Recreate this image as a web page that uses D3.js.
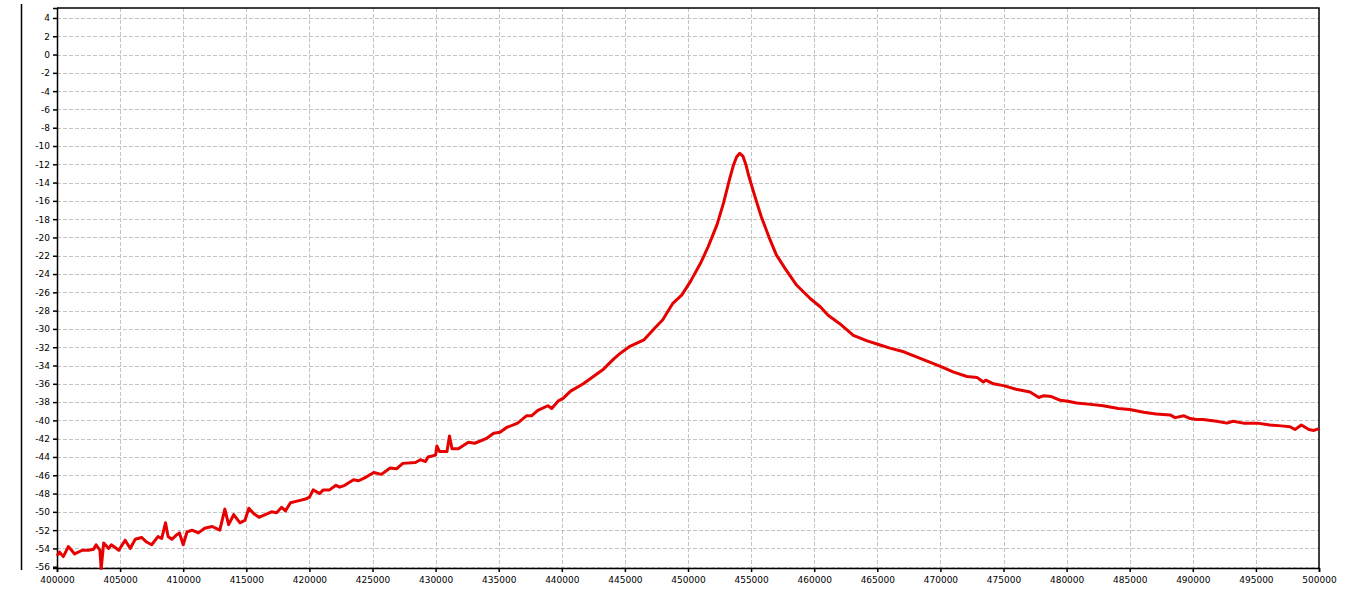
<!DOCTYPE html>
<html>
<head>
<meta charset="utf-8">
<script src="https://d3js.org/d3.v7.min.js"></script>
<style>
  body { margin: 0; background: #fff; }
  text { font-family: "DejaVu Sans", sans-serif; font-size: 9px; fill: #000; }
</style>
</head>
<body>
<div id="graph"></div>
<script>

// frequency sweep, Hz
var freqs = [
  400000, 400200, 400500, 400900, 401400, 402000, 402500, 402900, 403100, 403400,
  403500, 403700, 404100, 404300, 404900, 405400, 405800, 406200, 406700, 407100,
  407500, 408000, 408300, 408600, 408800, 409100, 409500, 409700, 410000, 410300,
  410700, 411200, 411700, 412300, 412900, 413300, 413600, 414000, 414500, 414900,
  415200, 415600, 416000, 416500, 417000, 417400, 417800, 418100, 418500, 419100,
  419700, 420000, 420300, 420800, 421100, 421600, 422100, 422400, 422800, 423500,
  423900, 424500, 425100, 425700, 426400, 426900, 427400, 428400, 428800, 429200,
  429400, 430000, 430100, 430300, 430900, 431100, 431300, 431800, 432600, 433100,
  434000, 434600, 435100, 435600, 436500, 437200, 437600, 438100, 438900, 439200,
  439700, 440100, 440700, 441700, 442500, 443300, 444100, 444600, 445400, 446500,
  447300, 448000, 448800, 449500, 450200, 451000, 451600, 452300, 452800, 453300,
  453600, 453850, 454100, 454350, 454600, 454800, 455300, 455800, 456400, 457000,
  457700, 458600, 459700, 460500, 461100, 462000, 463100, 464200, 465100, 466000,
  467100, 468000, 468900, 470000, 471000, 472100, 472900, 473400, 473600, 474200,
  475000, 476000, 477100, 477800, 478200, 478800, 479500, 480100, 480800, 481900,
  482900, 484100, 485000, 486100, 487100, 488200, 488600, 489300, 489800, 490300,
  490800, 491900, 492700, 493200, 494000, 495100, 496100, 497000, 497700, 498100,
  498600, 499200, 499600, 500000
];

// measured level, dB
var levels = [
  -54.8, -54.4, -54.9, -53.8, -54.6, -54.2, -54.2, -54.1, -53.6, -54.2,
  -56.2, -53.4, -54.0, -53.6, -54.2, -53.1, -54.0, -53.0, -52.8, -53.3,
  -53.6, -52.7, -52.9, -51.2, -52.7, -53.0, -52.5, -52.3, -53.6, -52.2,
  -52.0, -52.3, -51.8, -51.6, -52.0, -49.7, -51.4, -50.3, -51.2, -50.9,
  -49.6, -50.2, -50.6, -50.3, -50.0, -50.1, -49.5, -49.9, -49.0, -48.8,
  -48.6, -48.4, -47.6, -48.0, -47.6, -47.6, -47.1, -47.3, -47.1, -46.5,
  -46.6, -46.2, -45.7, -45.9, -45.2, -45.3, -44.7, -44.6, -44.3, -44.5,
  -44.0, -43.8, -42.8, -43.4, -43.4, -41.7, -43.1, -43.1, -42.4, -42.5,
  -42.0, -41.4, -41.3, -40.8, -40.3, -39.5, -39.5, -38.9, -38.4, -38.7,
  -37.9, -37.6, -36.8, -36.0, -35.2, -34.4, -33.3, -32.7, -31.9, -31.2,
  -30.0, -29.0, -27.2, -26.3, -24.8, -22.8, -21.0, -18.6, -16.3, -13.6,
  -12.1, -11.2, -10.8, -11.1, -12.1, -13.2, -15.5, -17.7, -19.9, -21.9,
  -23.4, -25.2, -26.7, -27.6, -28.5, -29.4, -30.7, -31.3, -31.7, -32.1,
  -32.5, -33.0, -33.5, -34.1, -34.7, -35.2, -35.3, -35.8, -35.6, -36.0,
  -36.2, -36.6, -36.9, -37.5, -37.3, -37.4, -37.8, -37.9, -38.1, -38.25,
  -38.4, -38.7, -38.8, -39.1, -39.3, -39.4, -39.7, -39.5, -39.8, -39.9,
  -39.9, -40.1, -40.3, -40.1, -40.3, -40.3, -40.5, -40.6, -40.7, -41.0,
  -40.5, -41.0, -41.1, -40.9
];

var xTicks = d3.range(400000, 500001, 5000);
var yTicks = d3.range(-56, 5, 2);

var svgWidth = 1350;
var svgHeight = 592;

var margin = { top: 8, right: 31, bottom: 24, left: 57 };
var chartWidth = svgWidth - margin.left - margin.right;
var chartHeight = svgHeight - margin.top - margin.bottom;

var svg = d3.select("#graph")
  .append("svg")
  .attr("width", svgWidth)
  .attr("height", svgHeight);

// the stray vertical rule on the far left
svg.append("line")
  .attr("x1", 21.5).attr("x2", 21.5)
  .attr("y1", 4).attr("y2", 570)
  .attr("stroke", "#000")
  .attr("stroke-width", 1.5);

var chartGroup = svg.append("g")
  .attr("transform", `translate(${margin.left}, ${margin.top})`);

var xScale = d3.scaleLinear()
  .domain([400000, 500000])
  .range([0, chartWidth]);

var yScale = d3.scaleLinear()
  .domain([-56.14, 5.09])
  .range([chartHeight, 0]);

// grid
chartGroup.append("g")
  .selectAll("line")
  .data(yTicks)
  .enter()
  .append("line")
  .attr("x1", 0).attr("x2", chartWidth)
  .attr("y1", d => Math.round(yScale(d)) + 0.5)
  .attr("y2", d => Math.round(yScale(d)) + 0.5)
  .attr("stroke", "#c4c4c4")
  .attr("stroke-dasharray", "4,2");

chartGroup.append("g")
  .selectAll("line")
  .data(xTicks.slice(1, -1))
  .enter()
  .append("line")
  .attr("y1", 0).attr("y2", chartHeight)
  .attr("x1", d => Math.round(xScale(d)) + 0.5)
  .attr("x2", d => Math.round(xScale(d)) + 0.5)
  .attr("stroke", "#c4c4c4")
  .attr("stroke-dasharray", "4,2");

// axes
var xAxis = d3.axisBottom(xScale)
  .tickValues(xTicks)
  .tickSize(4)
  .tickPadding(5)
  .tickFormat(d3.format("d"));

var yAxis = d3.axisLeft(yScale)
  .tickValues(yTicks)
  .tickSize(4)
  .tickPadding(3)
  .tickFormat(d => d);

chartGroup.append("g")
  .attr("transform", `translate(0, ${chartHeight})`)
  .call(xAxis)
  .call(g => g.selectAll("line, path").attr("stroke", "#000").attr("stroke-width", 1.5));

chartGroup.append("g")
  .call(yAxis)
  .call(g => g.selectAll("line, path").attr("stroke", "#000").attr("stroke-width", 1.5));

chartGroup.selectAll(".tick text")
  .attr("font-family", "DejaVu Sans")
  .attr("font-size", 9)
  .attr("fill", "#000");

// top and right border
chartGroup.append("path")
  .attr("d", `M0,0H${chartWidth}V${chartHeight}`)
  .attr("fill", "none")
  .attr("stroke", "#000")
  .attr("stroke-width", 1.5);

// response curve
var points = freqs.map((f, i) => [f, levels[i]]);

var line = d3.line()
  .x(d => xScale(d[0]))
  .y(d => yScale(d[1]));

chartGroup.append("path")
  .datum(points)
  .attr("d", line)
  .attr("fill", "none")
  .attr("stroke", "#e60000")
  .attr("stroke-width", 3)
  .attr("stroke-linejoin", "round");

</script>
</body>
</html>
